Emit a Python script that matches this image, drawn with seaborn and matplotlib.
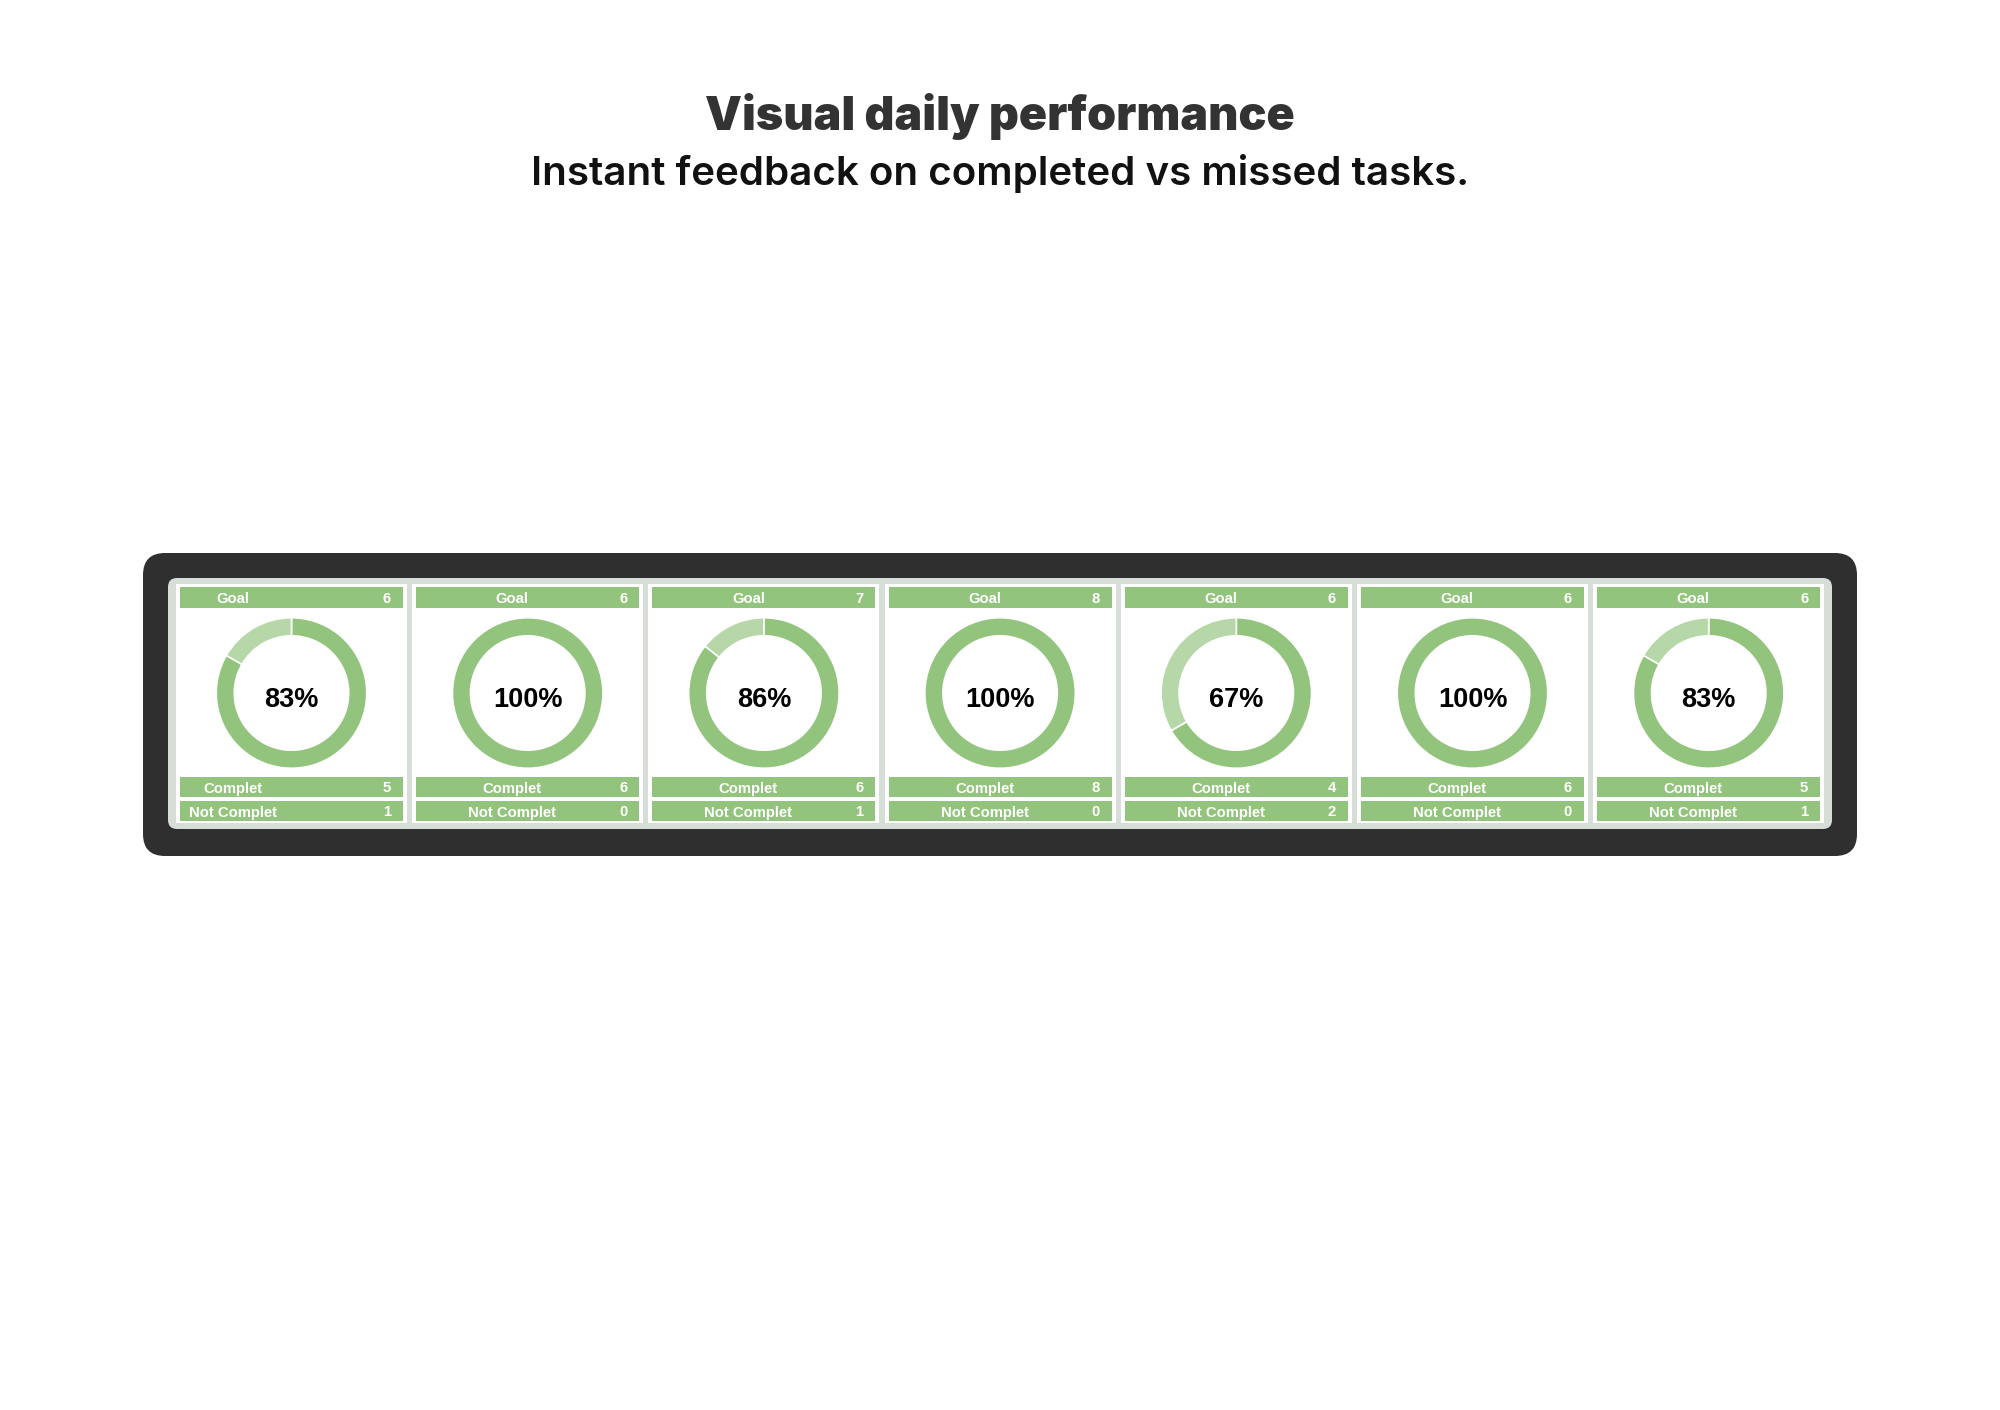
import numpy as np
import pandas as pd
import matplotlib
matplotlib.use("Agg")
import matplotlib.pyplot as plt
from matplotlib.patches import FancyBboxPatch, Rectangle
import seaborn as sns

# daily task data (one card per day)
goal = [6, 6, 7, 8, 6, 6, 6]
complete = [5, 6, 6, 8, 4, 6, 5]
not_complete = [1, 0, 1, 0, 2, 0, 1]

title = "Visual daily performance"
subtitle = "Instant feedback on completed vs missed tasks."
row_labels = ["Goal", "Complet", "Not Complet"]

GREEN = "#93c47d"
LIGHT_GREEN = "#b6d7a8"
DARK = "#2f2f2f"
PANEL = "#d7ddd7"

sns.set_theme(style="white")
plt.rcParams["font.family"] = ["Liberation Sans", "DejaVu Sans"]

df = pd.DataFrame({"goal": goal, "complete": complete, "not_complete": not_complete})
df["pct"] = (df["complete"] / df["goal"] * 100).round().astype(int)

W, H = 2000, 1410
fig = plt.figure(figsize=(W / 100, H / 100), dpi=100)
fig.patch.set_facecolor("white")

# background axes in pixel coordinates
bg = fig.add_axes([0, 0, 1, 1])
bg.set_xlim(0, W)
bg.set_ylim(H, 0)
bg.axis("off")

bg.text(W / 2, 130, title, ha="center", va="baseline", fontsize=33.5,
        fontweight="black", family=["Inter", "DejaVu Sans"], color="#333333")
bg.text(W / 2, 185, subtitle, ha="center", va="baseline", fontsize=29,
        fontweight="semibold", family=["Inter", "DejaVu Sans"], color="#111111")

# dark outer frame and light inner panel
bg.add_patch(FancyBboxPatch((143, 553), 1714, 303, boxstyle="round,pad=0,rounding_size=22",
                            facecolor=DARK, edgecolor="none"))
bg.add_patch(FancyBboxPatch((168, 578), 1664, 251, boxstyle="round,pad=0,rounding_size=9",
                            facecolor=PANEL, edgecolor="none"))

pitch = 236.2
bar_w = 223
bar_rows = [(587, 21), (777, 20), (801, 20)]
r_out = 76
cy = 693

for i, row in df.iterrows():
    x0 = 180 + i * pitch
    # white card
    bg.add_patch(Rectangle((x0 - 4, 584), bar_w + 8, 239, facecolor="white", edgecolor="none"))
    values = [row["goal"], row["complete"], row["not_complete"]]
    label_off = 53 if i == 0 else 96
    for (y, h), lab, val in zip(bar_rows, row_labels, values):
        bg.add_patch(Rectangle((x0, y), bar_w, h, facecolor=GREEN, edgecolor="none"))
        base = y + h / 2 + 5.5
        bg.text(x0 + label_off, base, lab, ha="center", va="baseline", fontsize=10.7,
                fontweight="bold", color="white")
        bg.text(x0 + bar_w - 12, base, str(val), ha="right", va="baseline", fontsize=10.7,
                fontweight="bold", color="white")

    # donut
    cx = x0 + bar_w / 2
    ax = fig.add_axes([(cx - r_out) / W, 1 - (cy + r_out) / H, 2 * r_out / W, 2 * r_out / H])
    parts = [row["complete"], row["not_complete"]]
    cols = [GREEN, LIGHT_GREEN]
    keep = [k for k, v in enumerate(parts) if v > 0]
    ax.pie([parts[k] for k in keep], colors=[cols[k] for k in keep], startangle=90,
           counterclock=False, radius=1,
           wedgeprops=dict(width=0.24, edgecolor="white", linewidth=1.2))
    ax.set_xlim(-1.01, 1.01)
    ax.set_ylim(-1.01, 1.01)
    ax.set_aspect("equal")
    ax.axis("off")
    bg.text(cx, cy + 14, f"{row['pct']}%", ha="center", va="baseline", fontsize=19.5,
            fontweight="bold", color="black")

fig.savefig("out.png", dpi=100, facecolor="white")
